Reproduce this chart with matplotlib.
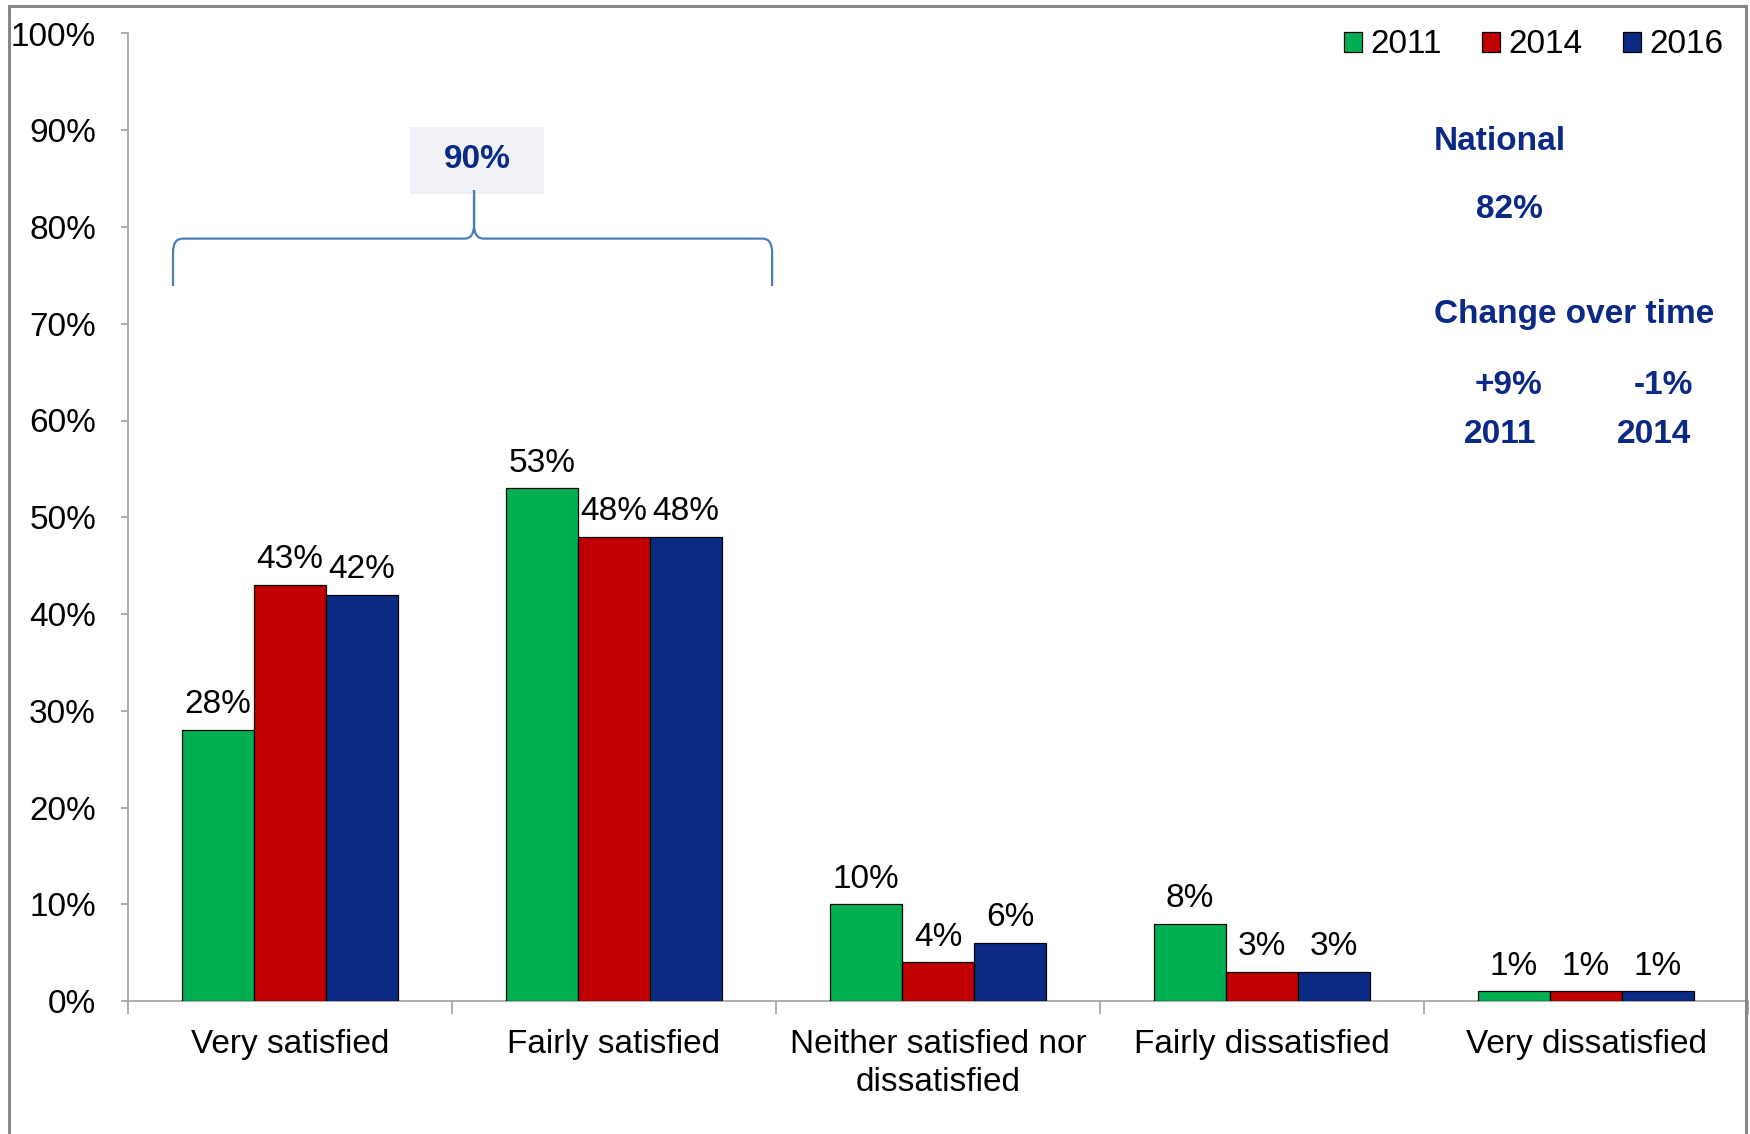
import matplotlib
matplotlib.use("Agg")
import matplotlib.pyplot as plt
import numpy as np
from matplotlib.path import Path
from matplotlib.patches import PathPatch, Rectangle
from matplotlib.ticker import FixedLocator, PercentFormatter

# Survey results: share of respondents per satisfaction level
categories = ["Very satisfied", "Fairly satisfied", "Neither satisfied nor\ndissatisfied",
              "Fairly dissatisfied", "Very dissatisfied"]
years = ["2011", "2014", "2016"]
values_2011 = [28, 53, 10, 8, 1]
values_2014 = [43, 48, 4, 3, 1]
values_2016 = [42, 48, 6, 3, 1]
series = [values_2011, values_2014, values_2016]
colors = ["#00B050", "#C00000", "#0A2A84"]

satisfied_total = "90%"
national_total = "82%"
change_values = ["+9%", "-1%"]
change_years = ["2011", "2014"]

navy = "#0B2A86"
plt.rcParams["font.family"] = ["Liberation Sans", "DejaVu Sans"]
FS = 24

fig = plt.figure(figsize=(17.5, 11.34), dpi=100)
ax = fig.add_axes([128 / 1750, 133 / 1134, 1620 / 1750, 967.5 / 1134])

x = np.arange(len(categories))
width = 1 / 4.5
for i, (vals, col, yr) in enumerate(zip(series, colors, years)):
    pos = x + (i - 1) * width
    bars = ax.bar(pos, vals, width, color=col, edgecolor="black", linewidth=0.9, label=yr, zorder=3)
    for b, v in zip(bars, vals):
        ax.annotate(f"{v}%", (b.get_x() + b.get_width() / 2, v), xytext=(0, 7),
                    textcoords="offset points", ha="center", va="bottom", fontsize=FS)

ax.set_xlim(-0.5, len(categories) - 0.5)
ax.set_ylim(0, 100)
ax.yaxis.set_major_locator(FixedLocator(np.arange(0, 101, 10)))
ax.yaxis.set_major_formatter(PercentFormatter(decimals=0))
ax.set_xticks(x)
ax.set_xticklabels(categories, fontsize=FS, linespacing=1.3)
ax.set_xticks(np.arange(-0.5, len(categories)), minor=True)
ax.tick_params(axis="x", which="major", length=0, pad=20)
ax.tick_params(axis="x", which="minor", length=9, color="#A0A0A0", width=1.2, direction="out")
ax.tick_params(axis="y", length=5, color="#A0A0A0", width=1.2, labelsize=FS, pad=18)
for s in ["top", "right"]:
    ax.spines[s].set_visible(False)
for s in ["left", "bottom"]:
    ax.spines[s].set_color("#A0A0A0")
    ax.spines[s].set_linewidth(1.2)

leg = ax.legend(loc="upper right", bbox_to_anchor=(0.993, 1.018), ncol=3, frameon=False,
                fontsize=FS, handlelength=0.55, handleheight=0.55, handletextpad=0.25,
                columnspacing=1.2, borderaxespad=0)

# Curly brace grouping the two "satisfied" categories
x0, x1, xc = -0.361, 1.488, 0.568
y_end, y_bar, y_tip = 73.9, 78.8, 83.8
dx, dy = 0.03, 1.4
verts = [(x0, y_end), (x0, y_bar - dy), (x0, y_bar), (x0 + dx, y_bar),
         (xc - dx, y_bar), (xc, y_bar), (xc, y_bar + dy), (xc, y_tip),
         (xc, y_bar + dy), (xc, y_bar), (xc + dx, y_bar),
         (x1 - dx, y_bar), (x1, y_bar), (x1, y_bar - dy), (x1, y_end)]
codes = [Path.MOVETO, Path.LINETO, Path.CURVE3, Path.CURVE3,
         Path.LINETO, Path.CURVE3, Path.CURVE3, Path.LINETO,
         Path.LINETO, Path.CURVE3, Path.CURVE3,
         Path.LINETO, Path.CURVE3, Path.CURVE3, Path.LINETO]
ax.add_patch(PathPatch(Path(verts, codes), fill=False, edgecolor="#4A7EBB", lw=1.6, zorder=4))

ax.add_patch(Rectangle((0.370, 83.4), 0.414, 6.9, facecolor="#F0F2F8", edgecolor="none", zorder=2))
ax.text(0.577, 87.0, satisfied_total, ha="center", va="center", fontsize=FS, fontweight="bold", color=navy)

# National comparison panel
ax.text(3.531, 88.85, "National", ha="left", va="center", fontsize=FS, fontweight="bold", color=navy)
ax.text(3.765, 81.8, national_total, ha="center", va="center", fontsize=FS, fontweight="bold", color=navy)
ax.text(3.531, 71.0, "Change over time", ha="left", va="center", fontsize=FS, fontweight="bold", color=navy)
for cx, cv, cy in zip([3.762, 4.238], change_values, change_years):
    ax.text(cx, 63.6, cv, ha="center", va="center", fontsize=FS, fontweight="bold", color=navy)
    ax.text(cx - 0.027, 58.6, cy, ha="center", va="center", fontsize=FS, fontweight="bold", color=navy)

# Outer frame around the chart area
fig.patches.append(Rectangle((9 / 1750, -0.01), 1737 / 1750, (1134 - 6) / 1134 + 0.01,
                             transform=fig.transFigure, fill=False, edgecolor="#888888", lw=2.2))

fig.savefig("out.png", dpi=100)
